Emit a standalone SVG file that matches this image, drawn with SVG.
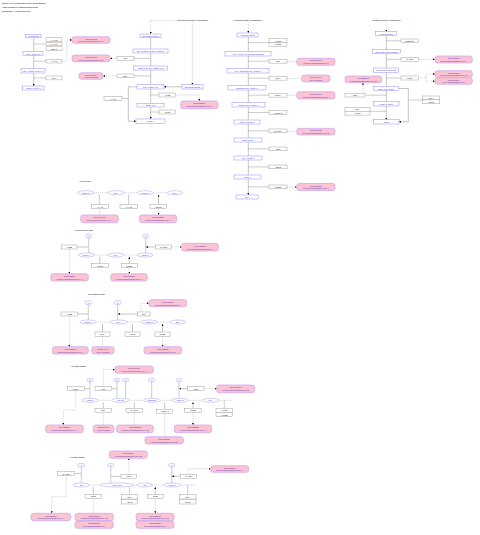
<svg xmlns="http://www.w3.org/2000/svg" width="480" height="535" viewBox="0 0 480 535">
<style>
text{font-family:"Liberation Sans",Arial,sans-serif;text-anchor:middle;dominant-baseline:central}
.b rect{fill:#fff;stroke:#8f8fff;stroke-width:0.5}
.b text{fill:#3434c8;font-size:2.1px}
.e ellipse{fill:#fff;stroke:#9c9cff;stroke-width:0.5}
.e text{fill:#3434c8;font-size:2.1px}
.g rect{fill:#fff;stroke:#8a8a8a;stroke-width:0.4}
.g text{fill:#222;font-size:2.1px}
.p rect{fill:#fcc4d2;stroke:#c6a4f2;stroke-width:0.7}
.p text{fill:#4a2a9a;font-size:1.85px}
.h{font-size:2.5px;fill:#000;text-anchor:start}
.t{font-size:2.2px;fill:#000}
.ln{stroke:#9a9a9a;stroke-width:0.5;fill:none}
.ar{stroke:#8a8a8a;stroke-width:0.5;fill:none;marker-end:url(#a)}
.ds{stroke:#b0b0b0;stroke-width:0.5;stroke-dasharray:1.2 0.8;fill:none}
.da{stroke:#b0b0b0;stroke-width:0.5;stroke-dasharray:1.2 0.8;fill:none;marker-end:url(#a)}
</style>
<defs>
<marker id="a" viewBox="0 0 4 4" refX="4" refY="2" markerWidth="2" markerHeight="2" markerUnits="userSpaceOnUse" orient="auto"><path d="M0,0L4,2L0,4z" fill="#000"/></marker>
</defs>
<rect width="480" height="535" fill="#fff"/>
<text class="h" x="2" y="3.6">Name: Glycosaminoglycan degradation</text>
<text class="h" x="2" y="7.4">Last Modified: 20210602170715</text>
<text class="h" x="2" y="11.2">Organism: Homo sapiens</text>
<text class="t" x="192.5" y="20.3" textLength="31" lengthAdjust="spacingAndGlyphs">Chondroitin sulfate degradation</text>
<text class="t" x="247.5" y="20.3" textLength="29" lengthAdjust="spacingAndGlyphs">Heparan sulfate degradation</text>
<text class="t" x="386.3" y="20.3" textLength="28.7" lengthAdjust="spacingAndGlyphs">Keratan sulfate degradation</text>
<text class="t" x="85" y="180.5">Hyaluronan</text>
<text class="t" x="84.2" y="229.5">Chondroitin sulfate</text>
<text class="t" x="96.7" y="293.5">Dermatan sulfate</text>
<text class="t" x="78.4" y="365.5">Heparan sulfate</text>
<text class="t" x="77.5" y="456.5">Keratan sulfate</text>

<g id="connectors">
<!-- col1 -->
<path class="ar" d="M33.7,37.8V51.7M33.7,55.3V68.7M33.7,73V86"/>
<path class="ln" d="M33.7,44H46M33.7,61.2H46M33.7,78H46"/>
<path class="da" d="M62,61.2H67V39.9H72"/>
<path class="da" d="M117,58.4H110"/>
<path class="da" d="M117,75.9H103"/>
<!-- col2 -->
<path class="ds" d="M150.7,20.5H176"/>
<path class="da" d="M150.7,20.5V34"/>
<path class="da" d="M192.3,21.8V84.7"/>
<path class="ar" d="M150.7,37.7V49M150.7,53V66M150.7,70V84.7M150.7,89V103.3M150.7,107V119"/>
<path class="ln" d="M134,58.4H150.7M134,75.9H150.7M159,95H150.7M159,112H150.7M122,98.5H128.3"/>
<path class="ar" d="M137,86.8H128.3V121.2H136"/>
<path class="ar" d="M182,86.8H164"/>
<path class="da" d="M175.7,95H199.4V101"/>
<!-- col3 -->
<path class="da" d="M248.3,22V33"/>
<path class="ar" d="M248.3,37V51.7M248.3,56V68.7M248.3,73V85.7M248.3,90V102.7M248.3,107V120M248.3,124V138M248.3,142V156M248.3,160V175M248.3,179V195"/>
<path class="ln" d="M248.3,42.6H269M248.3,61.2H269M248.3,78.2H269M248.3,95.2H269M248.3,112.5H269M248.3,130.9H269M248.3,148.9H269M248.3,166.9H269M248.3,186.9H269"/>
<path class="da" d="M287,61.8H296.7M287,78.4H301.7M287,95.3H296.7M287,131.6H296.7M287,187H296.7"/>
<!-- col4 -->
<path class="da" d="M386.3,22V31.7"/>
<path class="ar" d="M386.3,35.7V49.7M386.3,53.7V68M386.3,72.3V86.3M386.3,90.7V101.7M386.3,106V119.7"/>
<path class="ln" d="M386.3,40.8H401M386.3,59.3H401M386.3,78H401M365,95.2H386.3M370,111.3H386.3M408.3,100H422.7"/>
<path class="ar" d="M398.3,88.5H408.3V121.8H399"/>
<path class="da" d="M418.3,59.4H435"/>
<path class="da" d="M418.3,78H426V74H435"/>
<path class="da" d="M426,78V81.2H435"/>
<path class="da" d="M363,93.3V82.7"/>
<!-- section A -->
<path class="ds" d="M94,192.7H107.7M124,192.7H137.3M153.3,192.7H166.7"/>
<path class="ar" d="M99.3,204.3V194.6M128.7,204.3V194.6M158.5,204.3V194.6"/>
<path class="da" d="M99.3,208.7V215M158.5,208.7V215"/>
<!-- section B -->
<path class="ds" d="M94.3,255H107.7M124,255H137.3"/>
<path class="ln" d="M88.7,238.3V253M145.7,238.3V253"/>
<path class="ar" d="M77,247H88.4M155.7,247H146"/>
<path class="da" d="M69.3,249V273.7"/>
<path class="ar" d="M99.8,263.7V256.9M129.3,263.7V256.9"/>
<path class="da" d="M129.3,267.7V273.7"/>
<path class="da" d="M171.7,247H181.7"/>
<!-- section C -->
<path class="ds" d="M96,322H110M127.3,322H141M157.3,322H170"/>
<path class="ln" d="M88.3,304.7V320M117.7,304.7V320"/>
<path class="ar" d="M77.7,314H88M137.3,314H118"/>
<path class="da" d="M69.3,316V346.7"/>
<path class="da" d="M141,312V303.2H149"/>
<path class="ar" d="M102.5,332V324M132.5,332V324M162.5,332V324"/>
<path class="da" d="M102.5,336.3V346.7M162.5,336.3V346.7"/>
<!-- section D -->
<path class="ds" d="M98.3,400.3H111.7M129.3,400.3H143.3M160,400.3H171.7M188.3,400.3H202.3M219,400.3H233.3"/>
<path class="ln" d="M90,382V398.3M117,382V398.6M125.7,382V398.6M151.7,382V398.3M179,382V398.3"/>
<path class="ar" d="M84.3,388.7H89.7M111.7,388.7H116.7M187.7,388.7H179.3"/>
<path class="da" d="M75.8,390.7V410H63.3V425"/>
<path class="da" d="M103.3,386.7V369.6H115"/>
<path class="da" d="M204,388.7H216.7"/>
<path class="ar" d="M103.3,408.3V402.3M134.3,408.3V402.3M164.7,409.3V402.3M193,408.3V402.3"/>
<path class="ln" d="M224.3,408.3V400.3"/>
<path class="da" d="M103.3,412.3V425M134.3,412.3V425M164.7,413.3V436.7M193,412.3V425"/>
<!-- section E -->
<path class="ds" d="M89.3,485H100M134,485H137.3M152.3,485H164M180.7,485H196.7"/>
<path class="ln" d="M81.3,467V483M110.8,467V483.3M171.7,467V483"/>
<path class="ar" d="M74.7,473.5H81M121,476.3H111.1M180.3,476.3H172"/>
<path class="da" d="M66,475.3V496.7H51.7V513.3"/>
<path class="da" d="M128.8,474.3V458.3"/>
<path class="da" d="M188.3,474.3V468.8H210.7"/>
<path class="ar" d="M93.3,494.3V487M155.3,494.3V487"/>
<path class="ln" d="M129.5,494.3V486.8M187.7,494.3V485"/>
<path class="da" d="M93.3,498.3V513.3M155.3,498.3V513.3"/>
</g>

<!-- ===== column 1 ===== -->
<g id="c1n1" class="b"><rect x="25.7" y="34.3" width="15.3" height="3.5"/><text x="33.35" y="36.05">Hyaluronan</text></g>
<g id="c1g1" class="g"><rect x="46" y="37.8" width="16" height="3.4"/><text x="54" y="39.5">HYAL2</text></g>
<g id="c1g2" class="g"><rect x="46" y="42.3" width="16" height="3.4"/><text x="54" y="44">HYAL3</text></g>
<g id="c1g3" class="g"><rect x="46" y="46.8" width="16" height="3.4"/><text x="54" y="48.5">CEMIP</text></g>
<g id="c1n2" class="b"><rect x="23" y="51.7" width="20" height="3.6"/><text x="33" y="53.5">(GlcA-GlcNAc)n</text></g>
<g id="c1g4" class="g"><rect x="46" y="59.2" width="16" height="3.8"/><text x="54" y="61.1">HYAL1</text></g>
<g id="c1n3" class="b"><rect x="21" y="68.7" width="24" height="4.3"/><text x="33" y="70.85">GlcA-(GlcNAc-GlcA)n</text></g>
<g id="c1g5" class="g"><rect x="46" y="76" width="16" height="3.9"/><text x="54" y="77.95">HEXA</text></g>
<g id="c1n4" class="b"><rect x="22.7" y="86" width="21.3" height="4"/><text x="33.35" y="88">(GlcNAc-GlcA)n</text></g>
<g id="c1p1" class="p"><rect x="72" y="36.7" width="38" height="6.6" rx="2.5"/><text x="91" y="38.7">OMIM:601492</text><text x="91" y="41.3">Mucopolysaccharidosis Type IX</text></g>
<g id="c1p2" class="p"><rect x="72" y="55" width="38" height="6.7" rx="2.5"/><text x="91" y="57">OMIM:309900</text><text x="91" y="59.7">Mucopolysaccharidosis Type II</text></g>
<g id="c1p3" class="p"><rect x="79" y="72.7" width="24" height="6.6" rx="2.5"/><text x="91" y="74.7">OMIM:607014</text><text x="91" y="77.3">Hurler Syndrome</text></g>

<!-- ===== column 2 ===== -->
<g id="c2n1" class="b"><rect x="140" y="34" width="21" height="3.7"/><text x="150.5" y="35.85">Dermatan sulfate</text></g>
<g id="c2n2" class="b"><rect x="133" y="49" width="35" height="4"/><text x="150.5" y="51">IdoA-GalNAc4S-GlcA-GalNAc</text></g>
<g id="c2n3" class="b"><rect x="133.7" y="66" width="34" height="4"/><text x="150.7" y="68">GalNAc4S-GlcA-GalNAc4S</text></g>
<g id="c2n4" class="b"><rect x="137" y="84.7" width="27" height="4.3"/><text x="150.5" y="86.85">GlcA-GalNAc4S</text></g>
<g id="c2n5" class="b"><rect x="182" y="84.7" width="21" height="4.3"/><text x="192.5" y="86.85" style="font-size:1.9px">Chondroitin sulfate</text></g>
<g id="c2n6" class="b"><rect x="137" y="103.3" width="27" height="3.7"/><text x="150.5" y="105.15">GalNAc4S</text></g>
<g id="c2n7" class="b"><rect x="136" y="119" width="29" height="4.3"/><text x="150.5" y="121.15">GalNAc</text></g>
<g id="c2g1" class="g"><rect x="117" y="56.7" width="17" height="3.5"/><text x="125.5" y="58.45">IDS</text></g>
<g id="c2g2" class="g"><rect x="117" y="74" width="17" height="3.7"/><text x="125.5" y="75.85">IDUA</text></g>
<g id="c2g3" class="g"><rect x="159" y="93" width="16.7" height="4"/><text x="167.35" y="95">ARSB</text></g>
<g id="c2g4" class="g"><rect x="159" y="110" width="16.7" height="4"/><text x="167.35" y="112">HEXB</text></g>
<g id="c2g5" class="g"><rect x="104" y="96.5" width="18" height="4.2"/><text x="113" y="98.6">HYAL1</text></g>
<g id="c2p1" class="p"><rect x="180.7" y="101" width="37.3" height="7.7" rx="2.5"/><text x="199.35" y="103.4">OMIM:253200</text><text x="199.35" y="106.3">Mucopolysaccharidosis Type VI</text></g>

<!-- ===== column 3 ===== -->
<g id="c3n1" class="b"><rect x="237" y="33" width="21" height="4"/><text x="247.5" y="35">Heparan sulfate</text></g>
<g id="c3n2" class="b"><rect x="225" y="51.7" width="46" height="4.3"/><text x="248" y="53.85">(GlcA-GlcNAc)n-IdoA2S-GlcNS6S</text></g>
<g id="c3n3" class="b"><rect x="227" y="68.7" width="42" height="4.3"/><text x="248" y="70.85">IdoA-GlcNS6S-GlcA-GlcNAc</text></g>
<g id="c3n4" class="b"><rect x="228" y="85.7" width="38" height="4.3"/><text x="247" y="87.85">GlcNS6S-GlcA-GlcNAc</text></g>
<g id="c3n5" class="b"><rect x="232" y="102.7" width="33" height="4.3"/><text x="248.5" y="104.85">GlcN6S-GlcA-GlcNAc</text></g>
<g id="c3n6" class="b"><rect x="234" y="120" width="26" height="4"/><text x="247" y="122">GlcNAc6S-GlcA</text></g>
<g id="c3n7" class="b"><rect x="234" y="138" width="28" height="4"/><text x="248" y="140">GlcNAc-GlcA</text></g>
<g id="c3n8" class="b"><rect x="234" y="156" width="28" height="4"/><text x="248" y="158">GlcA-GlcNAc</text></g>
<g id="c3n9" class="b"><rect x="234" y="175" width="27" height="4"/><text x="247.5" y="177">GlcNAc</text></g>
<g id="c3n10" class="b"><rect x="236" y="195" width="22" height="4"/><text x="247" y="197">GlcA</text></g>
<g id="c3g1" class="g"><rect x="269" y="38.7" width="18" height="3.8"/><text x="278" y="40.6">HPSE</text></g>
<g id="c3g2" class="g"><rect x="269" y="42.5" width="18" height="3.8"/><text x="278" y="44.4">HPSE2</text></g>
<g id="c3g3" class="g"><rect x="269" y="59.3" width="18" height="3.8"/><text x="278" y="61.2">IDS</text></g>
<g id="c3g4" class="g"><rect x="269" y="76.3" width="18" height="3.8"/><text x="278" y="78.2">IDUA</text></g>
<g id="c3g5" class="g"><rect x="269" y="93.3" width="18" height="3.8"/><text x="278" y="95.2">SGSH</text></g>
<g id="c3g6" class="g"><rect x="269" y="110.7" width="18" height="3.7"/><text x="278" y="112.55">HGSNAT</text></g>
<g id="c3g7" class="g"><rect x="269" y="129" width="18" height="3.8"/><text x="278" y="130.9">NAGLU</text></g>
<g id="c3g8" class="g"><rect x="269" y="147" width="18" height="3.8"/><text x="278" y="148.9">GNS</text></g>
<g id="c3g9" class="g"><rect x="269" y="165" width="18" height="3.8"/><text x="278" y="166.9">HEXB</text></g>
<g id="c3g10" class="g"><rect x="269" y="185" width="18" height="3.8"/><text x="278" y="186.9">GUSB</text></g>
<g id="c3p1" class="p"><rect x="296.7" y="58.3" width="38.3" height="7" rx="2.5"/><text x="315.85" y="60.4">OMIM:309900</text><text x="315.85" y="63.2">Mucopolysaccharidosis Type II</text></g>
<g id="c3p2" class="p"><rect x="301.7" y="75" width="28.3" height="7" rx="2.5"/><text x="315.85" y="77.1">OMIM:607014</text><text x="315.85" y="79.9">Hurler Syndrome</text></g>
<g id="c3p3" class="p"><rect x="296.7" y="91.7" width="38.3" height="7.3" rx="2.5"/><text x="315.85" y="93.9">OMIM:252900</text><text x="315.85" y="96.8">Mucopolysaccharidosis Type IIIA</text></g>
<g id="c3p4" class="p"><rect x="296.7" y="128.3" width="38.3" height="6.7" rx="2.5"/><text x="315.85" y="130.3">OMIM:252920</text><text x="315.85" y="133">Mucopolysaccharidosis Type IIIB</text></g>
<g id="c3p5" class="p"><rect x="296.7" y="183.5" width="38.3" height="7" rx="2.5"/><text x="315.85" y="185.6">OMIM:253220</text><text x="315.85" y="188.4">Mucopolysaccharidosis Type VII</text></g>

<!-- ===== column 4 ===== -->
<g id="c4n1" class="b"><rect x="375.7" y="31.7" width="21" height="4"/><text x="386.2" y="33.7">Keratan sulfate</text></g>
<g id="c4n2" class="b"><rect x="372.3" y="49.7" width="28" height="4"/><text x="386.3" y="51.7">(Gal-GlcNAc6S)n-Gal6S</text></g>
<g id="c4n3" class="b"><rect x="373.7" y="68" width="24.6" height="4.3"/><text x="386" y="70.15">(Gal-GlcNAc6S)n-Gal</text></g>
<g id="c4n4" class="b"><rect x="373.7" y="86.3" width="24.6" height="4.4"/><text x="386" y="88.5">GlcNAc6S-(Gal)n</text></g>
<g id="c4n5" class="b"><rect x="373.7" y="101.7" width="25.3" height="4.3"/><text x="386.35" y="103.85">GlcNAc-(Gal)n</text></g>
<g id="c4n6" class="b"><rect x="373.7" y="119.7" width="25.3" height="4.3"/><text x="386.35" y="121.85">(Gal)n</text></g>
<g id="c4g1" class="g"><rect x="401" y="39" width="17.3" height="3.7"/><text x="409.65" y="40.85">ENDO-B</text></g>
<g id="c4g2" class="g"><rect x="401" y="57.3" width="17.3" height="4"/><text x="409.65" y="59.3">GALNS</text></g>
<g id="c4g3" class="g"><rect x="401" y="76" width="17.3" height="4"/><text x="409.65" y="78">GLB1</text></g>
<g id="c4g4" class="g"><rect x="345" y="93.3" width="20" height="3.7"/><text x="355" y="95.15">GNS</text></g>
<g id="c4g5" class="g"><rect x="345" y="107.3" width="25" height="3.9"/><text x="357.5" y="109.25">HEXA</text></g>
<g id="c4g6" class="g"><rect x="345" y="111.2" width="25" height="3.9"/><text x="357.5" y="113.15">HEXB</text></g>
<g id="c4g7" class="g"><rect x="422.7" y="96" width="16.6" height="3.9"/><text x="431" y="97.95">HEXA</text></g>
<g id="c4g8" class="g"><rect x="422.7" y="99.9" width="16.6" height="3.9"/><text x="431" y="101.85">HEXB</text></g>
<g id="c4p1" class="p"><rect x="435" y="56" width="37.3" height="7" rx="2.5"/><text x="453.65" y="58.1">OMIM:253000</text><text x="453.65" y="60.9">Mucopolysaccharidosis Type IVA</text></g>
<g id="c4p2" class="p"><rect x="435" y="70.7" width="37.3" height="6.6" rx="2.5"/><text x="453.65" y="72.7">OMIM:253010</text><text x="453.65" y="75.3">Mucopolysaccharidosis Type IVB</text></g>
<g id="c4p3" class="p"><rect x="435" y="77.6" width="37.3" height="6.6" rx="2.5"/><text x="453.65" y="79.6">OMIM:230500</text><text x="453.65" y="82.2">GM1-Gangliosidosis Type I</text></g>
<g id="c4p4" class="p"><rect x="345" y="76" width="36.7" height="6.7" rx="2.5"/><text x="363.35" y="78">OMIM:252940</text><text x="363.35" y="80.7">Mucopolysaccharidosis Type IIID</text></g>

<!-- ===== section A: Hyaluronan ===== -->
<g id="a_e1" class="e"><ellipse cx="85.7" cy="192.7" rx="8.3" ry="2"/><text x="85.7" y="192.7">GlcNAc</text></g>
<g id="a_e2" class="e"><ellipse cx="115.85" cy="192.7" rx="8.15" ry="2"/><text x="115.85" y="192.7">GlcA</text></g>
<g id="a_e3" class="e"><ellipse cx="145.3" cy="192.7" rx="8" ry="2"/><text x="145.3" y="192.7">GlcNAc</text></g>
<g id="a_e4" class="e"><ellipse cx="174.7" cy="192.7" rx="8" ry="2"/><text x="174.7" y="192.7">GlcA</text></g>
<g id="a_g1" class="g"><rect x="91.7" y="204.3" width="16.6" height="4.4"/><text x="100" y="206.5">HYAL1</text></g>
<g id="a_g2" class="g"><rect x="120" y="204.3" width="17.3" height="4.4"/><text x="128.65" y="206.5">HYAL2</text></g>
<g id="a_g3" class="g"><rect x="150" y="204.3" width="16.7" height="4.4"/><text x="158.35" y="206.5">GUSB</text></g>
<g id="a_p1" class="p"><rect x="80.7" y="215" width="37.6" height="7.7" rx="2.5"/><text x="99.5" y="217.4">OMIM:601492</text><text x="99.5" y="220.3">Mucopolysaccharidosis Type IX</text></g>
<g id="a_p2" class="p"><rect x="139.3" y="215" width="37.4" height="7.7" rx="2.5"/><text x="158" y="217.4">OMIM:253220</text><text x="158" y="220.3">Mucopolysaccharidosis Type VII</text></g>

<!-- ===== section B: Chondroitin sulfate ===== -->
<g id="b_s1" class="e"><ellipse cx="88.7" cy="236.3" rx="3" ry="2"/><text x="88.7" y="236.3">S</text></g>
<g id="b_s2" class="e"><ellipse cx="145.7" cy="236.3" rx="3" ry="2"/><text x="145.7" y="236.3">S</text></g>
<g id="b_g1" class="g"><rect x="61.3" y="245" width="15.7" height="4"/><text x="69.15" y="247">ARSB</text></g>
<g id="b_g2" class="g"><rect x="155.7" y="245" width="16" height="4"/><text x="163.7" y="247">GALNS</text></g>
<g id="b_p1" class="p"><rect x="181.7" y="243.3" width="36.6" height="7.7" rx="2.5"/><text x="200" y="245.7">OMIM:253000</text><text x="200" y="248.6">Mucopolysaccharidosis Type IVA</text></g>
<g id="b_e1" class="e"><ellipse cx="86.3" cy="255" rx="8" ry="2"/><text x="86.3" y="255">GalNAc</text></g>
<g id="b_e2" class="e"><ellipse cx="115.85" cy="255" rx="8.15" ry="2"/><text x="115.85" y="255">GlcA</text></g>
<g id="b_e3" class="e"><ellipse cx="145.3" cy="255" rx="8" ry="2"/><text x="145.3" y="255">GalNAc</text></g>
<g id="b_g3" class="g"><rect x="91.7" y="263.7" width="16.6" height="4"/><text x="100" y="265.7">HEXB</text></g>
<g id="b_g4" class="g"><rect x="121.3" y="263.7" width="16" height="4"/><text x="129.3" y="265.7">GUSB</text></g>
<g id="b_p2" class="p"><rect x="50.7" y="273.7" width="37.6" height="7.3" rx="2.5"/><text x="69.5" y="275.9">OMIM:253200</text><text x="69.5" y="278.8">Mucopolysaccharidosis Type VI</text></g>
<g id="b_p3" class="p"><rect x="110.7" y="273.7" width="36.6" height="7.3" rx="2.5"/><text x="129" y="275.9">OMIM:253220</text><text x="129" y="278.8">Mucopolysaccharidosis Type VII</text></g>

<!-- ===== section C: Dermatan sulfate ===== -->
<g id="c_s1" class="e"><ellipse cx="88.3" cy="302.7" rx="3.3" ry="2"/><text x="88.3" y="302.7">S</text></g>
<g id="c_s2" class="e"><ellipse cx="117.7" cy="302.7" rx="3.6" ry="2"/><text x="117.7" y="302.7">S</text></g>
<g id="c_p1" class="p"><rect x="149" y="299.7" width="37.7" height="7" rx="2.5"/><text x="167.85" y="301.8">OMIM:309900</text><text x="167.85" y="304.6">Mucopolysaccharidosis Type II</text></g>
<g id="c_g1" class="g"><rect x="61" y="312" width="16.7" height="4"/><text x="69.35" y="314">ARSB</text></g>
<g id="c_g2" class="g"><rect x="137.3" y="312" width="12.7" height="4"/><text x="143.65" y="314">IDS</text></g>
<g id="c_e1" class="e"><ellipse cx="88" cy="322" rx="8" ry="2"/><text x="88" y="322">GalNAc</text></g>
<g id="c_e2" class="e"><ellipse cx="118.65" cy="322" rx="8.65" ry="2"/><text x="118.65" y="322">IdoA</text></g>
<g id="c_e3" class="e"><ellipse cx="149.15" cy="322" rx="8.15" ry="2"/><text x="149.15" y="322">GalNAc</text></g>
<g id="c_e4" class="e"><ellipse cx="178" cy="322" rx="8" ry="2"/><text x="178" y="322">GlcA</text></g>
<g id="c_g3" class="g"><rect x="95" y="332" width="15" height="4.3"/><text x="102.5" y="334.15">IDUA</text></g>
<g id="c_g4" class="g"><rect x="125" y="332" width="15" height="4.3"/><text x="132.5" y="334.15">HEXB</text></g>
<g id="c_g5" class="g"><rect x="155" y="332" width="15" height="4.3"/><text x="162.5" y="334.15">GUSB</text></g>
<g id="c_p2" class="p"><rect x="52.3" y="346.7" width="36" height="7.3" rx="2.5"/><text x="70.3" y="348.9">OMIM:253200</text><text x="70.3" y="351.8">Mucopolysaccharidosis Type VI</text></g>
<g id="c_p3" class="p"><rect x="91.7" y="346.7" width="22.3" height="7.3" rx="2.5"/><text x="102.85" y="348.9">OMIM:607014</text><text x="102.85" y="351.8">Hurler Syndrome</text></g>
<g id="c_p4" class="p"><rect x="144" y="346.7" width="37.7" height="7.3" rx="2.5"/><text x="162.85" y="348.9">OMIM:253220</text><text x="162.85" y="351.8">Mucopolysaccharidosis Type VII</text></g>

<!-- ===== section D: Heparan sulfate ===== -->
<g id="d_p1" class="p"><rect x="115" y="366" width="38.3" height="7.3" rx="2.5"/><text x="134.15" y="368.2">OMIM:309900</text><text x="134.15" y="371.1">Mucopolysaccharidosis Type II</text></g>
<g id="d_s1" class="e"><ellipse cx="90" cy="380.2" rx="3.3" ry="1.9"/><text x="90" y="380.2">S</text></g>
<g id="d_s2" class="e"><ellipse cx="117" cy="380.2" rx="3" ry="1.9"/><text x="117" y="380.2">S</text></g>
<g id="d_s3" class="e"><ellipse cx="125.7" cy="380.2" rx="3" ry="1.9"/><text x="125.7" y="380.2">S</text></g>
<g id="d_s4" class="e"><ellipse cx="151.7" cy="380.2" rx="3.3" ry="1.9"/><text x="151.7" y="380.2">S</text></g>
<g id="d_s5" class="e"><ellipse cx="179" cy="380.2" rx="3" ry="1.9"/><text x="179" y="380.2">S</text></g>
<g id="d_g1" class="g"><rect x="67.3" y="386.7" width="17" height="4"/><text x="75.8" y="388.7">SGSH</text></g>
<g id="d_g2" class="g"><rect x="95" y="386.7" width="16.7" height="4"/><text x="103.35" y="388.7">IDS</text></g>
<g id="d_g3" class="g"><rect x="187.7" y="386.7" width="16.3" height="4"/><text x="195.85" y="388.7">GNS</text></g>
<g id="d_p2" class="p"><rect x="216.7" y="385" width="38" height="7.7" rx="2.5"/><text x="235.7" y="387.4">OMIM:252940</text><text x="235.7" y="390.3">Mucopolysaccharidosis Type IIID</text></g>
<g id="d_e1" class="e"><ellipse cx="90" cy="400.3" rx="8.3" ry="2"/><text x="90" y="400.3">GlcNS</text></g>
<g id="d_e2" class="e"><ellipse cx="120.5" cy="400.3" rx="8.8" ry="2"/><text x="120.5" y="400.3">IdoA2S</text></g>
<g id="d_e3" class="e"><ellipse cx="151.65" cy="400.3" rx="8.35" ry="2"/><text x="151.65" y="400.3">GlcNS6S</text></g>
<g id="d_e4" class="e"><ellipse cx="180" cy="400.3" rx="8.3" ry="2"/><text x="180" y="400.3">GlcNAc</text></g>
<g id="d_e5" class="e"><ellipse cx="210.65" cy="400.3" rx="8.35" ry="2"/><text x="210.65" y="400.3">GlcA</text></g>
<g id="d_g4" class="g"><rect x="95" y="408.3" width="16.7" height="4"/><text x="103.35" y="410.3">IDUA</text></g>
<g id="d_g5" class="g"><rect x="126" y="408.3" width="16.7" height="4"/><text x="134.35" y="410.3">NAGLU</text></g>
<g id="d_g6" class="g"><rect x="156.7" y="409.3" width="16" height="4"/><text x="164.7" y="411.3">HGSNAT</text></g>
<g id="d_g7" class="g"><rect x="184.3" y="408.3" width="17.4" height="4"/><text x="193" y="410.3">GUSB</text></g>
<g id="d_g8" class="g"><rect x="216" y="408.3" width="16.7" height="4.2"/><text x="224.35" y="410.4">HPSE</text></g>
<g id="d_g9" class="g"><rect x="216" y="412.5" width="16.7" height="4.2"/><text x="224.35" y="414.6">HPSE2</text></g>
<g id="d_p3" class="p"><rect x="45.7" y="425" width="37.6" height="7.7" rx="2.5"/><text x="64.5" y="427.4">OMIM:252900</text><text x="64.5" y="430.3">Mucopolysaccharidosis Type IIIA</text></g>
<g id="d_p4" class="p"><rect x="93.3" y="425" width="20.7" height="7.7" rx="2.5"/><text x="103.65" y="427.4">OMIM:607014</text><text x="103.65" y="430.3">Hurler Syndrome</text></g>
<g id="d_p5" class="p"><rect x="116.7" y="425" width="36.6" height="7.7" rx="2.5"/><text x="135" y="427.4">OMIM:252920</text><text x="135" y="430.3">Mucopolysaccharidosis Type IIIB</text></g>
<g id="d_p6" class="p"><rect x="174.3" y="425" width="37.4" height="7.7" rx="2.5"/><text x="193" y="427.4">OMIM:253220</text><text x="193" y="430.3">Mucopolysaccharidosis Type VII</text></g>
<g id="d_p7" class="p"><rect x="145" y="436.7" width="38.3" height="7.3" rx="2.5"/><text x="164.15" y="438.9">OMIM:252930</text><text x="164.15" y="441.8">Mucopolysaccharidosis Type IIIC</text></g>

<!-- ===== section E: Keratan sulfate ===== -->
<g id="e_p1" class="p"><rect x="109.3" y="451" width="38" height="7.3" rx="2.5"/><text x="128.3" y="453.2">OMIM:252940</text><text x="128.3" y="456.1">Mucopolysaccharidosis Type IIID</text></g>
<g id="e_s1" class="e"><ellipse cx="81.35" cy="465.2" rx="3.65" ry="1.9"/><text x="81.35" y="465.2">S</text></g>
<g id="e_s2" class="e"><ellipse cx="110.85" cy="465.2" rx="3.15" ry="1.9"/><text x="110.85" y="465.2">S</text></g>
<g id="e_s3" class="e"><ellipse cx="171.65" cy="465.2" rx="3.35" ry="1.9"/><text x="171.65" y="465.2">S</text></g>
<g id="e_g1" class="g"><rect x="57.3" y="471.7" width="17.4" height="3.6"/><text x="66" y="473.5">GALNS</text></g>
<g id="e_g2" class="g"><rect x="121" y="474.3" width="15.7" height="4"/><text x="128.85" y="476.3">GNS</text></g>
<g id="e_g3" class="g"><rect x="180.3" y="474.3" width="16.4" height="4"/><text x="188.5" y="476.3">GALNS</text></g>
<g id="e_p2" class="p"><rect x="210.7" y="465.7" width="38" height="6.6" rx="2.5"/><text x="229.7" y="467.7">OMIM:253000</text><text x="229.7" y="470.3">Mucopolysaccharidosis Type IVA</text></g>
<g id="e_e1" class="e"><ellipse cx="81.3" cy="485" rx="8" ry="2"/><text x="81.3" y="485">Gal</text></g>
<g id="e_e2" class="e"><ellipse cx="117" cy="485" rx="17" ry="2"/><text x="117" y="485">GlcNAc6S</text></g>
<g id="e_e3" class="e"><ellipse cx="144.8" cy="485" rx="7.5" ry="2"/><text x="144.8" y="485">Gal</text></g>
<g id="e_e4" class="e"><ellipse cx="172.35" cy="485" rx="8.35" ry="2"/><text x="172.35" y="485">GlcNAc</text></g>
<g id="e_g4" class="g"><rect x="85" y="494.3" width="16.7" height="4"/><text x="93.35" y="496.3">GLB1</text></g>
<g id="e_g5" class="g"><rect x="121.7" y="494.3" width="15.6" height="4.7"/><text x="129.5" y="496.65">HEXA</text></g>
<g id="e_g6" class="g"><rect x="121.7" y="499.3" width="15.6" height="4.7"/><text x="129.5" y="501.65">HEXB</text></g>
<g id="e_g7" class="g"><rect x="147.3" y="494.3" width="16" height="4"/><text x="155.3" y="496.3">GLB1</text></g>
<g id="e_g8" class="g"><rect x="179.3" y="494.3" width="16.7" height="4.7"/><text x="187.65" y="496.65">HEXA</text></g>
<g id="e_g9" class="g"><rect x="179.3" y="499.3" width="16.7" height="4.7"/><text x="187.65" y="501.65">HEXB</text></g>
<g id="e_p3" class="p"><rect x="31" y="513.3" width="39.7" height="7.4" rx="2.5"/><text x="50.85" y="515.5">OMIM:253000</text><text x="50.85" y="518.4">Mucopolysaccharidosis Type IVA</text></g>
<g id="e_p4" class="p"><rect x="75" y="513.3" width="38.3" height="7.4" rx="2.5"/><text x="94.15" y="515.5">OMIM:253010</text><text x="94.15" y="518.4">Mucopolysaccharidosis Type IVB</text></g>
<g id="e_p5" class="p"><rect x="75" y="521" width="38.3" height="7.3" rx="2.5"/><text x="94.15" y="523.2">OMIM:230500</text><text x="94.15" y="526.1">GM1-Gangliosidosis Type I</text></g>
<g id="e_p6" class="p"><rect x="136" y="513.3" width="38" height="7.4" rx="2.5"/><text x="155" y="515.5">OMIM:253010</text><text x="155" y="518.4">Mucopolysaccharidosis Type IVB</text></g>
<g id="e_p7" class="p"><rect x="136" y="521" width="38" height="7.3" rx="2.5"/><text x="155" y="523.2">OMIM:230500</text><text x="155" y="526.1">GM1-Gangliosidosis Type I</text></g>
</svg>
